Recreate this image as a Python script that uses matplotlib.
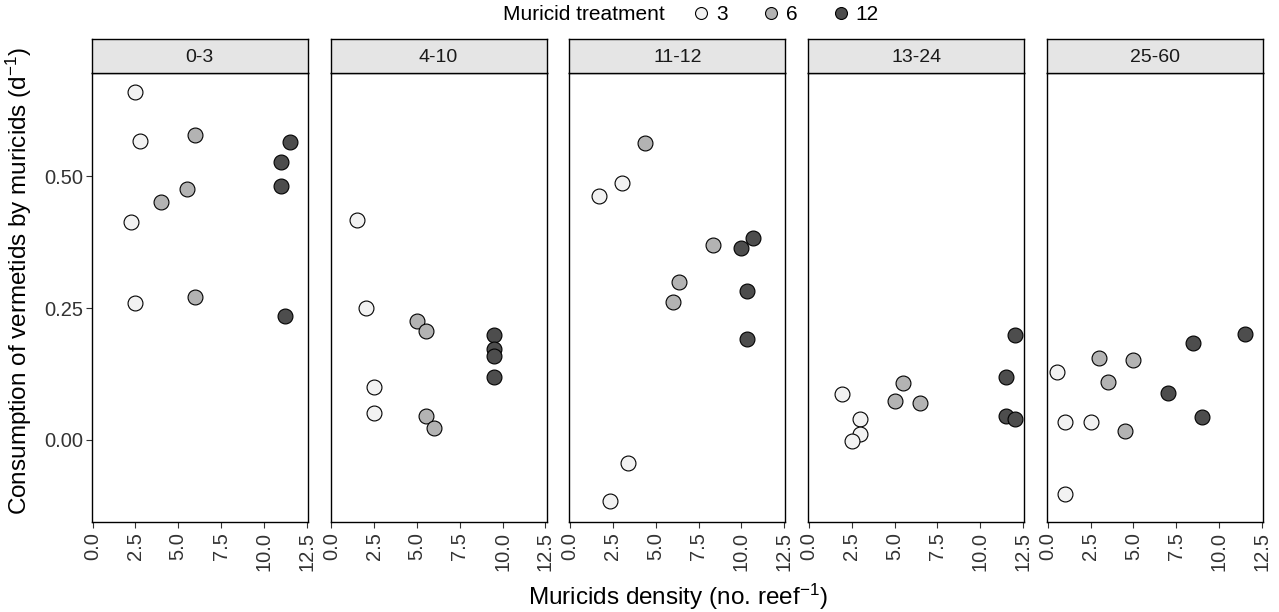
import matplotlib as mpl
import matplotlib.pyplot as plt
from matplotlib.lines import Line2D

mpl.rcParams['font.family'] = ['Liberation Sans', 'DejaVu Sans']
mpl.rcParams['mathtext.fontset'] = 'custom'
mpl.rcParams['mathtext.rm'] = 'Liberation Sans'
mpl.rcParams['mathtext.it'] = 'Liberation Sans:italic'

panels = ['0-3', '4-10', '11-12', '13-24', '25-60']

# treatment 3 (white)
t3_panel = ['0-3', '0-3', '0-3', '0-3',
            '4-10', '4-10', '4-10', '4-10',
            '11-12', '11-12', '11-12', '11-12',
            '13-24', '13-24', '13-24', '13-24',
            '25-60', '25-60', '25-60', '25-60']
t3_x = [2.5, 2.75, 2.25, 2.5,
        1.5, 2.0, 2.5, 2.5,
        3.0, 1.7, 3.35, 2.35,
        1.95, 3.0, 3.0, 2.5,
        0.55, 1.0, 2.5, 1.0]
t3_y = [0.661, 0.567, 0.414, 0.259,
        0.417, 0.251, 0.101, 0.051,
        0.487, 0.463, -0.044, -0.116,
        0.087, 0.039, 0.011, -0.003,
        0.129, 0.034, 0.033, -0.103]

# treatment 6 (grey)
t6_panel = ['0-3', '0-3', '0-3', '0-3',
            '4-10', '4-10', '4-10', '4-10',
            '11-12', '11-12', '11-12', '11-12',
            '13-24', '13-24', '13-24',
            '25-60', '25-60', '25-60', '25-60']
t6_x = [6.0, 4.0, 5.5, 6.0,
        5.0, 5.5, 5.5, 6.0,
        4.35, 8.35, 6.35, 6.0,
        5.5, 5.0, 6.5,
        3.0, 5.0, 3.5, 4.5]
t6_y = [0.578, 0.451, 0.477, 0.272,
        0.226, 0.206, 0.046, 0.022,
        0.563, 0.370, 0.300, 0.261,
        0.107, 0.073, 0.069,
        0.156, 0.152, 0.110, 0.016]

# treatment 12 (dark)
t12_panel = ['0-3', '0-3', '0-3', '0-3',
             '4-10', '4-10', '4-10', '4-10',
             '11-12', '11-12', '11-12', '11-12',
             '13-24', '13-24', '13-24', '13-24',
             '25-60', '25-60', '25-60', '25-60']
t12_x = [11.5, 11.0, 11.0, 11.25,
         9.5, 9.5, 9.5, 9.5,
         10.0, 10.7, 10.35, 10.35,
         12.0, 11.5, 11.5, 12.0,
         11.5, 8.5, 7.0, 9.0]
t12_y = [0.565, 0.528, 0.481, 0.236,
         0.199, 0.173, 0.159, 0.119,
         0.365, 0.384, 0.282, 0.191,
         0.199, 0.119, 0.046, 0.039,
         0.201, 0.184, 0.088, 0.044]

treatments = ['3', '6', '12']
fills = ['#F2F2F2', '#B3B3B3', '#4D4D4D']
series = [(t3_panel, t3_x, t3_y), (t6_panel, t6_x, t6_y), (t12_panel, t12_x, t12_y)]

W, H = 1279, 612
fig = plt.figure(figsize=(W / 100, H / 100), dpi=100)

ax_bottom = 1 - 522 / H
ax_top = 1 - 72.7 / H
strip_top = 1 - 39.3 / H
pw = 216 / W
grey = '#333333'

for i, p in enumerate(panels):
    left = (91.7 + i * 238.8) / W
    ax = fig.add_axes([left, ax_bottom, pw, ax_top - ax_bottom])
    for (pan, xs, ys), fc in zip(series, fills):
        px = [x for x, q in zip(xs, pan) if q == p]
        py = [y for y, q in zip(ys, pan) if q == p]
        ax.scatter(px, py, s=115, c=fc, edgecolors='black', linewidths=0.8, zorder=3)
    ax.set_xlim(-0.05, 12.56)
    ax.set_ylim(-0.156, 0.697)
    ax.set_xticks([0, 2.5, 5, 7.5, 10, 12.5])
    ax.set_xticklabels(['0.0', '2.5', '5.0', '7.5', '10.0', '12.5'], rotation=90)
    ax.tick_params(axis='x', length=4, width=0.8, color=grey, labelsize=14.5,
                   labelcolor=grey, pad=3)
    if i == 0:
        ax.set_yticks([0, 0.25, 0.5])
        ax.set_yticklabels(['0.00', '0.25', '0.50'])
        ax.tick_params(axis='y', length=4, width=0.8, color=grey, labelsize=14.5,
                       labelcolor=grey, pad=2)
    else:
        ax.set_yticks([])
    for sp in ax.spines.values():
        sp.set_color('black')
        sp.set_linewidth(1.0)

    st = fig.add_axes([left, ax_top, pw, strip_top - ax_top])
    st.set_facecolor('#E5E5E5')
    st.set_xticks([])
    st.set_yticks([])
    for sp in st.spines.values():
        sp.set_color('black')
        sp.set_linewidth(1.0)
    st.text(0.5, 0.45, p, ha='center', va='center', fontsize=14, color='#1a1a1a',
            transform=st.transAxes)

fig.text(19 / W, 1 - 281 / H,
         r'Consumption of vermetids by muricids (d$^{-1}$)',
         rotation=90, ha='center', va='center', fontsize=17.5)
fig.text(678 / W, 1 - 597 / H, r'Muricids density (no. reef$^{-1}$)',
         ha='center', va='center', fontsize=17.5)

# legend on top
fig.text(503 / W, 1 - 15 / H, 'Muricid treatment', ha='left', va='center', fontsize=15)
handles = [Line2D([], [], marker='o', linestyle='none', markersize=8.6,
                  markerfacecolor=fc, markeredgecolor='black', markeredgewidth=0.8)
           for fc in fills]
fig.legend(handles, treatments, ncol=3, frameon=False, loc='center left',
           bbox_to_anchor=(693 / W, 1 - 15 / H), fontsize=15,
           handlelength=0.8, handletextpad=0.3, columnspacing=1.7,
           borderaxespad=0, borderpad=0)

fig.savefig('out.png', dpi=100)
